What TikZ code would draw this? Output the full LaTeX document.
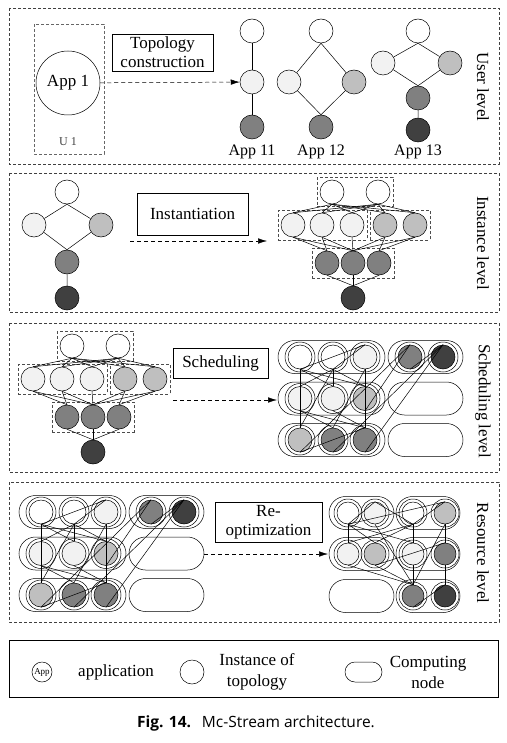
\documentclass[tikz,border=0pt]{standalone}
\usepackage{fontspec}
\setmainfont{Liberation Serif}
\newfontfamily\capfont{Open Sans}
\usepackage{tikz}
\usetikzlibrary{fit,arrows.meta}

\definecolor{cBlanco}{HTML}{FFFFFF}
\definecolor{cClaro}{HTML}{F2F2F2}
\definecolor{cGris}{HTML}{BFBFBF}
\definecolor{cMedio}{HTML}{808080}
\definecolor{cOscuro}{HTML}{404040}

% Topologia instanciada (origen en el nodo final)
\newcommand{\grafoinst}{%
  \node[inst] (t1) at (-21,-106) {};
  \node[inst] (t2) at (25,-106) {};
  \foreach \n/\x/\c in {m1/-60/cClaro, m2/-31/cClaro, m3/-1/cClaro, m4/32/cGris, m5/62/cGris}
    \node[inst, fill=\c] (\n) at (\x,-73) {};
  \foreach \n/\x in {b1/-26, b2/0, b3/26}
    \node[inst, fill=cMedio] (\n) at (\x,-35) {};
  \node[inst, fill=cOscuro] (f) at (0,0) {};
  % grupos
  \node[grupo, fit=(t1)(t2)] (gt) {};
  \node[grupo, fit=(m1)(m3)] (gm1) {};
  \node[grupo, fit=(m4)(m5)] (gm2) {};
  \node[grupo, fit=(b1)(b3)] (gb) {};
  % aristas
  \foreach \a in {t1,t2}
    \foreach \b in {m1,m2,m3,m4,m5}
      \draw (\a.south) -- (\b.north);
  \foreach \a/\b in {m1/b1, m1/b2, m2/b1, m2/b2, m3/b2, m4/b2, m4/b3, m5/b2, m5/b3}
    \draw (\a.south) -- (\b.north);
  \foreach \a in {b1,b2,b3}
    \draw (\a.south) -- (f.north);
}

% Reparto sobre nodos de computo (origen en la primera instancia)
\newcommand{\repartoA}{%
  \foreach \r/\y in {1/0, 2/41.5, 3/83} {
    \node[comp, minimum width=107pt] (c\r a) at (31.5,\y) {};
    \node[comp, minimum width=75pt] (c\r b) at (125.5,\y) {};
  }
  \foreach \n/\x/\y/\c in {w1/0/0/cBlanco, w2/33/0/cBlanco, l1/65/0/cClaro, m3/110/0/cMedio, d/143/0/cOscuro,
      l2/0/41.5/cClaro, l3/33/41.5/cClaro, g1/65/41.5/cGris, g2/0/83/cGris, m1/33/83/cMedio, m2/65/83/cMedio}
    \node[inst, fill=\c] (\n) at (\x,\y) {};
  \foreach \n in {w1,w2,l1,m3,d,l2,l3,g1,g2,m1,m2}
    \draw (\n) circle (15pt);
  % aristas
  \foreach \a in {w1,w2}
    \foreach \b in {l1,l2,l3,g1,g2}
      \draw (\a.south) -- (\b.north);
  \foreach \a/\b in {l1/m1, l1/m2, l2/m1, l2/m2, l3/m2, g1/m2, g1/m3, g2/m2, g2/m3}
    \draw (\a.south) -- (\b.north);
  \foreach \a in {m1,m2,m3}
    \draw (\a.south) -- (d.north);
}

\begin{document}
\begin{tikzpicture}[
    x=1pt, y=-1pt,      % coordenadas en px, eje y hacia abajo
    font=\fontsize{17}{19}\selectfont,
    line width=0.5pt,
    inst/.style={circle, draw, fill=white, minimum size=24pt, inner sep=0pt},
    comp/.style={draw, rounded corners=16.5pt, minimum height=33pt, inner sep=0pt},
    grupo/.style={draw=black!70, dash pattern=on 3pt off 2pt, inner sep=2.5pt},
    panel/.style={draw=black!75, dash pattern=on 3pt off 2pt},
    caja/.style={draw, align=center, inner sep=0.5pt},
    flecha/.style={dash pattern=on 4pt off 3pt, -{Latex[length=9pt,width=5.5pt]}},
    nivel/.style={rotate=-90},
]
\useasboundingbox (0,0) rectangle (506,743);

% --- Nivel de usuario ---
\draw[panel] (9,8) rectangle (499,164);
\draw[grupo, draw=black!60] (34,24) rectangle (104,154);
\node[inst, minimum size=64pt] (app1) at (68,83) {App 1};
\node[font=\fontsize{12}{14}\selectfont, text=black!75] (u1) at (68,142) {U 1};
\node[caja, minimum width=101pt, minimum height=37pt] (topo) at (162.5,52.5) {Topology\\construction};
% App 11
\node[inst] (a11a) at (252,31) {};
\node[inst, fill=cClaro] (a11b) at (252,82) {};
\node[inst, fill=cMedio] (a11c) at (252,127) {};
\draw (a11a) -- (a11b) (a11b) -- (a11c);
% App 12
\node[inst] (a12a) at (321,31) {};
\node[inst, fill=cClaro] (a12b) at (289,82) {};
\node[inst, fill=cGris] (a12c) at (354,82) {};
\node[inst, fill=cMedio] (a12d) at (321,127) {};
\draw (a12a.south) -- (a12b) (a12a.south) -- (a12c)
      (a12b) -- (a12d.north) (a12c) -- (a12d.north);
% App 13
\node[inst] (a13a) at (418,31) {};
\node[inst, fill=cClaro] (a13b) at (383,63) {};
\node[inst, fill=cGris] (a13c) at (450,63) {};
\node[inst, fill=cMedio] (a13d) at (418,98) {};
\node[inst, fill=cOscuro] (a13e) at (418,130) {};
\draw (a13a.south) -- (a13b) (a13a.south) -- (a13c)
      (a13b) -- (a13d.north) (a13c) -- (a13d.north) (a13d) -- (a13e);
\node[font=\fontsize{16}{18}\selectfont] (t11) at (252,152) {App 11};
\node[font=\fontsize{16}{18}\selectfont] (t12) at (321,152) {App 12};
\node[font=\fontsize{16}{18}\selectfont] (t13) at (418,152) {App 13};
\draw[flecha] (app1) -- (a11b);
\node[nivel] (nivel1) at (483,87) {User level};

% --- Nivel de instancias ---
\draw[panel] (9,173) rectangle (499,312);
\node[inst] (q1) at (67,192) {};
\node[inst, fill=cClaro] (q2) at (34,225) {};
\node[inst, fill=cGris] (q3) at (101,225) {};
\node[inst, fill=cMedio] (q4) at (67,262) {};
\node[inst, fill=cOscuro] (q5) at (67,298) {};
\draw (q1.south) -- (q2) (q1.south) -- (q3)
      (q2) -- (q4.north) (q3) -- (q4.north) (q4) -- (q5);
\node[caja, minimum width=111pt, minimum height=42pt] (inst) at (192.5,214) {Instantiation};
\coordinate (i0) at (130,241);
\coordinate (i1) at (267,241);
\draw[flecha] (i0) -- (i1);
\begin{scope}[shift={(353,298)}, name prefix=ir-]
  \grafoinst
\end{scope}
\node[nivel] (nivel2) at (483,243) {Instance level};

% --- Nivel de planificacion ---
\draw[panel] (9,323) rectangle (499,472);
\begin{scope}[shift={(93,452)}, name prefix=sl-]
  \grafoinst
\end{scope}
\node[caja, minimum width=95pt, minimum height=30pt] (sched) at (220.5,363) {Scheduling};
\coordinate (s0) at (173,400);
\coordinate (s1) at (277,400);
\draw[flecha] (s0) -- (s1);
\begin{scope}[shift={(300,357)}, name prefix=sr-]
  \repartoA
\end{scope}
\node[nivel] (nivel3) at (483,401) {Scheduling level};

% --- Nivel de recursos ---
\draw[panel] (9,482) rectangle (499,622);
\begin{scope}[shift={(41,512)}, name prefix=rl-]
  \repartoA
\end{scope}
\node[caja, minimum width=107pt, minimum height=40pt] (reopt) at (268.5,522) {Re-\\optimization};
\coordinate (r0) at (204,554);
\coordinate (r1) at (328,554);
\draw[flecha] (r0) -- (r1);
% reparto optimizado
\foreach \y in {513,554,596} {
  \node[comp, minimum width=65pt] (rc-\y a) at (361.5,\y) {};
  \node[comp, minimum width=64pt] (rc-\y b) at (428,\y) {};
}
\foreach \n/\x/\y/\c in {ra1/348/513/cBlanco, ra2/375/513/cClaro, ra3/413/513/cBlanco, ra4/445/513/cGris,
    rb1/348/554/cClaro, rb2/375/554/cGris, rb3/413/554/cClaro, rb4/445/554/cMedio,
    rc3/413/596/cMedio, rc4/445/596/cOscuro}
  \node[inst, fill=\c, minimum size=22pt] (\n) at (\x,\y) {};
\foreach \n in {ra1,ra2,ra3,ra4,rb1,rb2,rb3,rb4,rc3,rc4}
  \draw (\n) circle (14pt);
\foreach \a in {ra1,ra3}
  \foreach \b in {ra2,ra4,rb1,rb2,rb3}
    \draw (\a.south) -- (\b.north);
\foreach \a/\b in {ra2/rc3, rb1/rc3, rb3/rc3, rb2/rb4, rb2/rc3, ra4/rb4, ra4/rc3, rb4/rc4, rc3/rc4}
  \draw (\a.south) -- (\b.north);
\node[nivel] (nivel4) at (483,553) {Resource level};

% --- Leyenda ---
\draw (9,640) rectangle (498,697);
\node[inst, minimum size=20pt, font=\fontsize{9}{10}\selectfont] (lapp) at (42,672) {App};
\node (ltxt1) at (116,672) {application};
\node[inst] (linst) at (192,672) {};
\node[align=center, font=\fontsize{17}{21}\selectfont] (ltxt2) at (257,672) {Instance of\\topology};
\node[comp, minimum width=37pt, minimum height=20pt, rounded corners=10pt] (lcomp) at (363.5,672) {};
\node[align=center, font=\fontsize{17}{21}\selectfont] (ltxt3) at (428,672) {Computing\\node};

% --- Pie de figura ---
\node[font=\capfont\fontsize{15.5}{17}\selectfont] (pie) at (256,723) {\textbf{Fig. 14.}\hspace{0.7em}Mc-Stream architecture.};

\end{tikzpicture}
\end{document}
